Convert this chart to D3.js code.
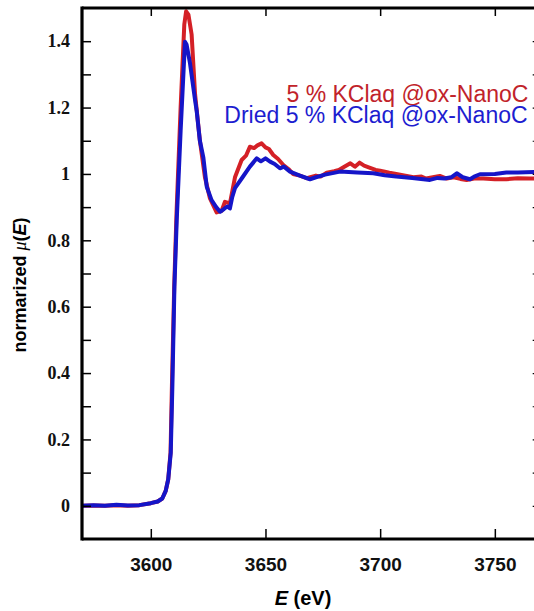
<!DOCTYPE html>
<html lang="en">
<head>
  <meta charset="UTF-8" />
  <title>normalized mu(E) - KClaq @ox-NanoC</title>
  <script src="https://d3js.org/d3.v7.min.js"></script>
  <style>
    body {
      margin: 0;
      background: #fff;
      overflow: hidden;
    }
    svg {
      display: block;
    }
  </style>
</head>
<body>
  <div id="chart"></div>

  <script>
    // values
    const redE = [3570, 3575, 3580, 3585, 3590, 3595, 3600, 3603, 3605, 3606.5, 3607.6, 3608.6, 3609.2, 3610.2, 3611.2,
      3613, 3614.6, 3615.4, 3616.4, 3617.8, 3619.3, 3621.4, 3623.6, 3625.8, 3628.7, 3630.9, 3632.3, 3634.5, 3636.7,
      3639.6, 3641.5, 3643.2, 3645, 3646.5, 3648.3, 3650, 3651.5, 3653.4, 3655.5, 3657.8, 3660, 3662, 3665, 3668,
      3672, 3674, 3676.7, 3680, 3682, 3684, 3687, 3689, 3691, 3693, 3695, 3698, 3700, 3704, 3707, 3711, 3714.5,
      3718, 3720, 3723, 3726, 3729, 3732, 3735, 3737.7, 3741, 3745, 3750, 3755, 3760, 3765, 3770];
    const redMu = [0.0, 0.001, 0.0, 0.002, 0.0, 0.002, 0.008, 0.013, 0.022, 0.045, 0.08, 0.16, 0.36, 0.66, 0.88,
      1.2, 1.45, 1.49, 1.48, 1.42, 1.24, 1.10, 0.99, 0.926, 0.884, 0.889, 0.916, 0.911, 0.99,
      1.042, 1.055, 1.082, 1.078, 1.086, 1.092, 1.08, 1.075, 1.057, 1.045, 1.027, 1.015, 1.0, 0.995, 0.987,
      0.995, 0.992, 1.004, 1.008, 1.012, 1.02, 1.032, 1.022, 1.034, 1.025, 1.02, 1.012, 1.01, 1.004, 1.0, 0.995, 0.99,
      0.992, 0.986, 0.99, 0.994, 0.986, 0.99, 0.985, 0.982, 0.986, 0.986, 0.984, 0.984, 0.987, 0.986, 0.987];

    const blueE = [3570, 3575, 3580, 3585, 3590, 3595, 3600, 3603, 3605, 3606.5, 3607.6, 3608.7, 3609.4, 3610.3, 3611.3,
      3613, 3614.9, 3615.6, 3617.1, 3619.3, 3620, 3621.4, 3622.9, 3624.4, 3626.5, 3628.5, 3630.2, 3632, 3633.3, 3634.5,
      3635.5, 3636.7, 3640, 3643.2, 3646.2, 3648, 3650, 3652, 3654, 3656.3, 3658, 3660.7, 3665, 3669.4, 3672,
      3676, 3682.5, 3690, 3697, 3702, 3707, 3714, 3721.7, 3725, 3728, 3731, 3733.4, 3736, 3739.2, 3741,
      3743.5, 3750, 3755, 3760, 3770];
    const blueMu = [0.0, 0.002, 0.0, 0.003, 0.001, 0.002, 0.008, 0.013, 0.022, 0.045, 0.08, 0.16, 0.36, 0.66, 0.86,
      1.13, 1.398, 1.39, 1.333, 1.222, 1.19, 1.10, 1.05, 0.961, 0.921, 0.9, 0.886, 0.895, 0.902, 0.896,
      0.93, 0.957, 0.99, 1.022, 1.047, 1.038, 1.047, 1.037, 1.03, 1.017, 1.022, 1.007, 0.995, 0.984, 0.99,
      0.998, 1.007, 1.004, 1.002, 0.996, 0.992, 0.988, 0.982, 0.988, 0.986, 0.99, 1.002, 0.99, 0.984, 0.992,
      0.999, 1.0, 1.004, 1.004, 1.007];

    const xTicks = [3600, 3650, 3700, 3750];
    const yTicks = d3.range(0, 15).map(i => i / 10);   // every 0.1, labels on every 0.2
    const seriesNames = ["5 % KClaq @ox-NanoC", "Dried 5 % KClaq @ox-NanoC"];
    const seriesColors = ["#d42026", "#1515c8"];
    const labelColors = ["#c1232a", "#1d1dd0"];

    const width = 534;
    const height = 611;

    const x = d3.scaleLinear([3570, 3770], [82, 540.7]);
    const y = d3.scaleLinear([-0.1, 1.5], [539, 8]);

    const svg = d3.select("#chart")
      .append("svg")
      .attr("width", width)
      .attr("height", height);

    const line = d3.line()
      .x(d => x(d[0]))
      .y(d => y(d[1]));

    const series = [
      d3.zip(redE, redMu),
      d3.zip(blueE, blueMu)
    ];

    // curves, red below blue
    svg.append("g")
      .attr("fill", "none")
      .attr("stroke-width", 4)
      .attr("stroke-linejoin", "round")
      .selectAll("path")
      .data(series)
      .join("path")
      .attr("stroke", (d, i) => seriesColors[i])
      .attr("d", line);

    // bottom axis with labels, ticks pointing in
    const xAxis = svg.append("g")
      .attr("transform", `translate(0,${y(-0.1)})`)
      .call(d3.axisBottom(x)
        .tickValues(xTicks)
        .tickSizeInner(-10)
        .tickSizeOuter(0)
        .tickPadding(19)
        .tickFormat(d3.format("d")));
    xAxis.select(".domain").remove();
    xAxis.selectAll("line").attr("stroke-width", 1.5);
    xAxis.selectAll("text")
      .attr("fill", "#111")
      .style("font", "bold 19px 'Liberation Sans', Arial, sans-serif");

    // top axis, ticks only
    const topAxis = svg.append("g")
      .attr("transform", `translate(0,${y(1.5)})`)
      .call(d3.axisTop(x).tickValues(xTicks).tickSizeInner(-8).tickSizeOuter(0).tickFormat(""));
    topAxis.select(".domain").remove();
    topAxis.selectAll("line").attr("stroke-width", 1.5);

    // left axis
    const yAxis = svg.append("g")
      .attr("transform", `translate(${x(3570)},0)`)
      .call(d3.axisLeft(y)
        .tickValues(yTicks)
        .tickSizeInner(-9)
        .tickSizeOuter(0)
        .tickPadding(12)
        .tickFormat(d => Math.round(d * 10) % 2 === 0 ? d3.format("~g")(d) : ""));
    yAxis.select(".domain").remove();
    yAxis.selectAll("line").attr("stroke-width", 1.5);
    yAxis.selectAll("text")
      .attr("fill", "#111")
      .style("font", "bold 18px 'Liberation Serif', 'Times New Roman', serif");

    // right axis, ticks only (frame sits just past the picture edge)
    const rightAxis = svg.append("g")
      .attr("transform", `translate(${x(3770)},0)`)
      .call(d3.axisRight(y).tickValues(yTicks).tickSizeInner(-8).tickSizeOuter(0).tickFormat(""));
    rightAxis.select(".domain").remove();
    rightAxis.selectAll("line").attr("stroke-width", 1.2);

    // frame
    const frame = svg.append("g").attr("stroke", "#000").attr("stroke-width", 3.2);
    frame.append("line").attr("x1", x(3570)).attr("x2", x(3770)).attr("y1", y(1.5)).attr("y2", y(1.5));
    frame.append("line").attr("x1", x(3570)).attr("x2", x(3770)).attr("y1", y(-0.1)).attr("y2", y(-0.1));
    frame.append("line").attr("x1", x(3570)).attr("x2", x(3570)).attr("y1", y(1.5) - 1.6).attr("y2", y(-0.1) + 1.6);
    frame.append("line").attr("x1", x(3770)).attr("x2", x(3770)).attr("y1", y(1.5) - 1.6).attr("y2", y(-0.1) + 1.6);

    // legend text
    svg.append("g")
      .style("font", "23px 'Liberation Sans', Arial, sans-serif")
      .selectAll("text")
      .data(seriesNames)
      .join("text")
      .attr("x", (d, i) => i === 0 ? 286.5 : 224.3)
      .attr("y", (d, i) => i === 0 ? 101.7 : 123.3)
      .attr("fill", (d, i) => labelColors[i])
      .text(d => d);

    // x label
    const xLabel = svg.append("text")
      .attr("x", 303)
      .attr("y", 605)
      .attr("text-anchor", "middle")
      .style("font", "bold 20px 'Liberation Sans', Arial, sans-serif");
    xLabel.append("tspan").attr("font-style", "italic").text("E");
    xLabel.append("tspan").text(" (eV)");

    // y label
    const yLabel = svg.append("text")
      .attr("transform", "translate(26,285) rotate(-90)")
      .attr("text-anchor", "middle")
      .style("font", "bold 18px 'Liberation Sans', Arial, sans-serif");
    yLabel.append("tspan").text("normarized ");
    yLabel.append("tspan")
      .attr("font-family", "'Liberation Serif', serif")
      .attr("font-style", "italic")
      .attr("font-weight", "normal")
      .text("μ");
    yLabel.append("tspan").text("(");
    yLabel.append("tspan").attr("font-style", "italic").text("E");
    yLabel.append("tspan").text(")");
  </script>
</body>
</html>
